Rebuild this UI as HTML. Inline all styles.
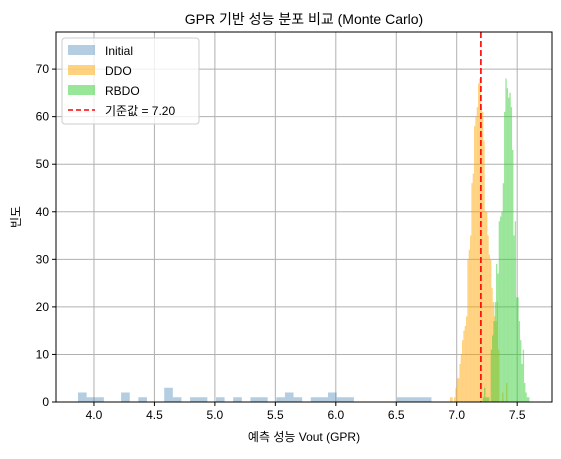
<!DOCTYPE html>
<html><head><meta charset="utf-8"><style>
body{margin:0;background:#fff;}
svg text{font-family:"Liberation Sans","Noto Sans CJK KR",sans-serif;fill:#000;}
</style></head><body>
<svg id="c" width="561" height="454" xmlns="http://www.w3.org/2000/svg"></svg>
<script>
const xTicks=[4.0,4.5,5.0,5.5,6.0,6.5,7.0,7.5];
const yTicks=[0,10,20,30,40,50,60,70];
const initialStart=3.868, initialWidth=0.0713;
const initialCounts=[2,1,1,0,0,2,0,1,0,0,3,1,0,1,1,0,1,0,1,0,1,1,0,1,2,1,0,1,1,2,1,1,0,0,0,0,0,1,1,1,1];
const ddoStart=6.9446, ddoWidth=0.01103;
const ddoCounts=[1,1,0,1,3,5,5,8,10,13,15,16,18,30,32,35,46,48,58,60,62,67,68,62,61,55,40,40,35,31,30,24,21,18,17,21,11,0,0,2,0,0,4];
const rbdoStart=7.2150, rbdoWidth=0.01103;
const rbdoCounts=[1,3,1,1,1,0,11,14,17,21,29,27,38,39,40,46,61,68,66,64,65,62,53,35,38,22,22,17,13,8,11,4,2,1,1];
const refValue=7.20;

const L=56,R=552,T=32,B=402, xmin=3.686,xmax=7.788,ymax=77.8;
const X=v=>L+(v-xmin)/(xmax-xmin)*(R-L);
const Y=v=>B-v/ymax*(B-T);
const svg=document.getElementById('c');
const NS='http://www.w3.org/2000/svg';
function mk(tag,attrs,parent){const e=document.createElementNS(NS,tag);for(const k in attrs)e.setAttribute(k,attrs[k]);(parent||svg).appendChild(e);return e;}

// grid
xTicks.forEach(t=>{const l=mk('line',{x1:X(t),x2:X(t),y1:T,y2:B,stroke:'#b0b0b0','stroke-width':1});

});
yTicks.forEach(t=>{const l=mk('line',{x1:L,x2:R,y1:Y(t),y2:Y(t),stroke:'#b0b0b0','stroke-width':1});

});

function hist(start,w,counts,color,op,name){
  const g=mk('g',{});
  
  
  counts.forEach((c,i)=>{if(!c)return;const x0=X(start+i*w),x1=X(start+(i+1)*w);
    const r=mk('rect',{x:x0,y:Y(c),width:x1-x0,height:B-Y(c),fill:color,'fill-opacity':op},g);
    
    });
}
hist(initialStart,initialWidth,initialCounts,'#4682b4',0.4,'initial-histogram');
hist(ddoStart,ddoWidth,ddoCounts,'#ffa500',0.5,'ddo-histogram');
hist(rbdoStart,rbdoWidth,rbdoCounts,'#32cd32',0.5,'rbdo-histogram');

const rl=mk('line',{x1:X(refValue),x2:X(refValue),y1:T,y2:B,stroke:'#ff0000','stroke-width':1.6,'stroke-dasharray':'6,3'});



const fr=mk('rect',{x:L,y:T,width:R-L,height:B-T,fill:'none',stroke:'#000','stroke-width':1});



xTicks.forEach(t=>{mk('line',{x1:X(t),x2:X(t),y1:B,y2:B+4,stroke:'#000'});
const tx=mk('text',{x:X(t),y:B+17,'text-anchor':'middle','font-size':12});tx.textContent=t.toFixed(1);

});
yTicks.forEach(t=>{mk('line',{x1:L-4,x2:L,y1:Y(t),y2:Y(t),stroke:'#000'});
const tx=mk('text',{x:L-7,y:Y(t)+4,'text-anchor':'end','font-size':12});tx.textContent=t;

});
</script>
<svg width="561" height="454" style="position:absolute;left:0;top:0">
<text x="304" y="24" text-anchor="middle" font-size="14">GPR 기반 성능 분포 비교 (Monte Carlo)</text>
<text x="304" y="441" text-anchor="middle" font-size="12">예측 성능 Vout (GPR)</text>
<text x="20" y="217" text-anchor="middle" font-size="12" transform="rotate(-90 20 217)">빈도</text>
<g>
<rect x="62" y="38" width="137" height="86" rx="3" fill="#fff" fill-opacity="0.8" stroke="#ccc"/>
<rect x="68" y="45" width="27" height="10" fill="#4682b4" fill-opacity="0.4"/>
<text x="105" y="55" font-size="12">Initial</text>
<rect x="68" y="65" width="27" height="10" fill="#ffa500" fill-opacity="0.5"/>
<text x="105" y="75" font-size="12">DDO</text>
<rect x="68" y="85" width="27" height="10" fill="#32cd32" fill-opacity="0.5"/>
<text x="105" y="95" font-size="12">RBDO</text>
<line x1="68" x2="95" y1="110" y2="110" stroke="#f00" stroke-width="1.6" stroke-dasharray="5,3"/>
<text x="105" y="115" font-size="12">기준값 = 7.20</text>
</g>
</svg>
</body></html>
